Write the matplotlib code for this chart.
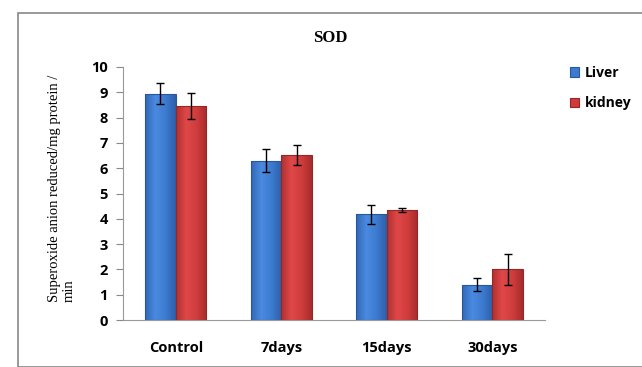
import numpy as np
import matplotlib.pyplot as plt
from matplotlib.patches import Rectangle
from matplotlib.colors import LinearSegmentedColormap

# datos
categorias = ['Control', '7days', '15days', '30days']
liver = [8.95, 6.3, 4.18, 1.4]
liver_err = [0.4, 0.45, 0.38, 0.27]
kidney = [8.45, 6.52, 4.35, 2.0]
kidney_err = [0.52, 0.38, 0.07, 0.62]

fig = plt.figure(figsize=(6.42, 3.67), dpi=100)
# marco exterior del grafico
fig.patches.append(Rectangle((18/642, 0), 1, 1 - 13/367, transform=fig.transFigure,
                             fill=False, edgecolor='#888888', linewidth=1.2))

ax = fig.add_axes([123/642, 1 - 320/367, (545 - 123)/642, (320 - 67)/367])
x = np.arange(len(categorias))
w = 0.29
b1 = ax.bar(x - w/2, liver, w, yerr=liver_err, color='#3a78cc', edgecolor='#28579a',
            linewidth=0.8, capsize=3, error_kw=dict(elinewidth=1, ecolor='black', zorder=5),
            label='Liver')
b2 = ax.bar(x + w/2, kidney, w, yerr=kidney_err, color='#cf3a3a', edgecolor='#982626',
            linewidth=0.8, capsize=3, error_kw=dict(elinewidth=1, ecolor='black', zorder=5),
            label='kidney')

# degradado horizontal en las barras
grad = np.linspace(0, 1, 64).reshape(1, -1)
cm_azul = LinearSegmentedColormap.from_list('a', ['#3268b5', '#4a8ae0', '#3c7bd0', '#2d5fa8'])
cm_rojo = LinearSegmentedColormap.from_list('r', ['#b03030', '#e04848', '#d03c3c', '#a62c2c'])
for barras, cm in [(b1, cm_azul), (b2, cm_rojo)]:
    for r in barras:
        x0, y0 = r.get_x(), r.get_y()
        im = ax.imshow(grad, cmap=cm, aspect='auto', zorder=2,
                       extent=[x0, x0 + r.get_width(), y0, y0 + r.get_height()])
        im.set_clip_path(r)
        r.set_zorder(3)
        r.set_facecolor('none')

ax.set_xlim(-0.5, 3.5)
ax.set_ylim(0, 10)
ax.set_yticks(range(0, 11))
ax.set_xticks(x)
ax.set_xticklabels(categorias, fontfamily='Open Sans', fontweight='bold', fontsize=10.5)
for t in ax.get_yticklabels():
    t.set_fontfamily('Open Sans')
    t.set_fontweight('bold')
    t.set_fontsize(10.5)
ax.tick_params(axis='x', length=0, pad=15)
ax.tick_params(axis='y', length=5, color='#888888', direction='out', pad=6)
for s in ['top', 'right']:
    ax.spines[s].set_visible(False)
for s in ['left', 'bottom']:
    ax.spines[s].set_color('#999999')

fig.text(330/642, 1 - 38/367, 'SOD', fontfamily='Liberation Serif', fontweight='bold',
         fontsize=12, ha='center', va='center')
fig.text(62/642, 1 - 188/367, 'Superoxide anion reduced/mg protein /\nmin',
         fontfamily='Liberation Serif', fontsize=10.5, rotation=90, ha='center',
         va='center', multialignment='left')

h, l = ax.get_legend_handles_labels()
leg = fig.legend(h, l, loc='center left', bbox_to_anchor=(557/642, 1 - 88/367), frameon=False,
                 prop={'family': 'Open Sans', 'weight': 'bold', 'size': 10},
                 handlelength=0.7, handleheight=0.7, labelspacing=1.2, handletextpad=0.4)
for p, c in zip(leg.get_patches(), ['#3c7bd0', '#d03c3c']):
    p.set_facecolor(c)

plt.savefig('out.png', dpi=100)
